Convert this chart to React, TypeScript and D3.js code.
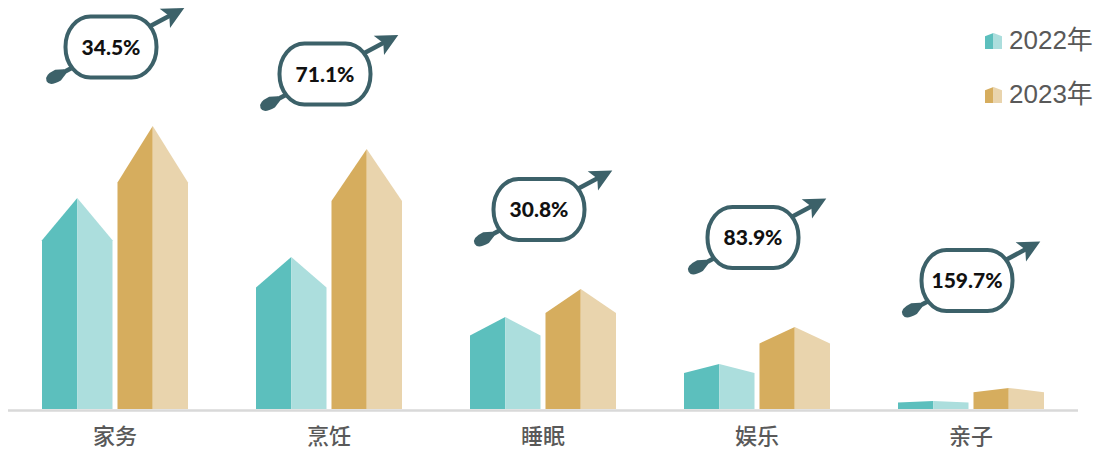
import * as d3 from 'd3'

const categories = ['家务', '烹饪', '睡眠', '娱乐', '亲子']
const years = ['2022年', '2023年']
const values2022 = [2.11, 1.52, 0.92, 0.45, 0.08]
const values2023 = [2.83, 2.6, 1.2, 0.82, 0.21]
const growthLabels = ['34.5%', '71.1%', '30.8%', '83.9%', '159.7%']
// value level where each growth badge sits
const badgeLevels = [3.62, 3.35, 1.995, 1.715, 1.285]

const COLORS = [
  { dark: '#5cbfbd', light: '#acdedd' },
  { dark: '#d6ad5e', light: '#e9d4ad' },
]
const BADGE = '#3c6169'
const LABEL = '#595959'

const W = 1097
const H = 451
const BASE = 409

// pentagon bar split in a darker left half and lighter right half
function halves(x0: number, w: number, yBottom: number, yTop: number) {
  const sh = yBottom - (yBottom - yTop) * 0.8
  const xm = x0 + w / 2
  const x1 = x0 + w
  const left = `M${x0},${yBottom}L${x0},${sh}L${xm},${yTop}L${xm},${yBottom}Z`
  const right = `M${xm},${yBottom}L${xm},${yTop}L${x1},${sh}L${x1},${yBottom}Z`
  return { left, right }
}

function Badge({ x, y, label }: { x: number; y: number; label: string }) {
  return (
    <g transform={`translate(${x},${y})`}>
      <g transform="rotate(-28)">
        <line x1={-60} y1={0} x2={68} y2={0} stroke={BADGE} strokeWidth={4.5} />
        <polygon points="83,0 61,-11 66,0 61,11" fill={BADGE} />
        <path d="M-52,-2.4 L-60,-6 Q-73,-6.5 -73,0 Q-73,6.5 -60,6 L-52,2.4 Z" fill={BADGE} />
      </g>
      <rect x={-45.5} y={-30.5} width={91} height={61} rx={25} ry={30} fill="#fff" stroke={BADGE} strokeWidth={4} />
      <text
        x={0}
        y={0}
        dy="0.36em"
        textAnchor="middle"
        fontFamily="Lato, 'DejaVu Sans', sans-serif"
        fontWeight={900}
        fontSize={21}
        fill="#111"
      >
        {label}
      </text>
    </g>
  )
}

export default function App() {
  const x0 = d3.scaleBand<string>().domain(categories).range([8, 1078]).paddingInner(0).paddingOuter(0)
  const groupW = 146
  const x1 = d3.scaleBand<string>().domain(years).range([0, groupW]).paddingInner(0.066)
  const y = d3.scaleLinear().domain([0, 3]).range([BASE, BASE - 300])

  const series = [values2022, values2023]

  return (
    <svg width={W} height={H} style={{ position: 'absolute', left: 0, top: 0 }}>
      <rect width={W} height={H} fill="#fff" />
      <line x1={8} x2={1078} y1={410.5} y2={410.5} stroke="#d9d9d9" strokeWidth={2.5} />

      {categories.map((c, i) => {
        const cx = x0(c)! + x0.bandwidth() / 2
        const gx = cx - groupW / 2
        return (
          <g key={c}>
            {years.map((yr, s) => {
              const v = series[s][i]
              const p = halves(gx + x1(yr)!, x1.bandwidth(), BASE, y(v))
              return (
                <g key={yr}>
                  <path d={p.left} fill={COLORS[s].dark} />
                  <path d={p.right} fill={COLORS[s].light} />
                </g>
              )
            })}
            <text
              x={cx}
              y={444}
              textAnchor="middle"
              fontFamily="'Noto Sans CJK SC', sans-serif"
              fontWeight={500}
              fontSize={22}
              fill={LABEL}
            >
              {c}
            </text>
          </g>
        )
      })}

      {categories.map((c, i) => (
        <Badge key={c} x={x0(c)! + x0.bandwidth() / 2 - 4} y={y(badgeLevels[i])} label={growthLabels[i]} />
      ))}

      {years.map((yr, s) => {
        const top = 33 + s * 54
        const p = halves(985, 17, top + 16, top)
        return (
          <g key={yr}>
            <path d={p.left} fill={COLORS[s].dark} />
            <path d={p.right} fill={COLORS[s].light} />
            <text
              x={1009}
              y={top + 16}
              fontFamily="'Liberation Sans', 'Noto Sans CJK SC', sans-serif"
              fontSize={26}
              fill={LABEL}
            >
              {yr}
            </text>
          </g>
        )
      })}
    </svg>
  )
}
